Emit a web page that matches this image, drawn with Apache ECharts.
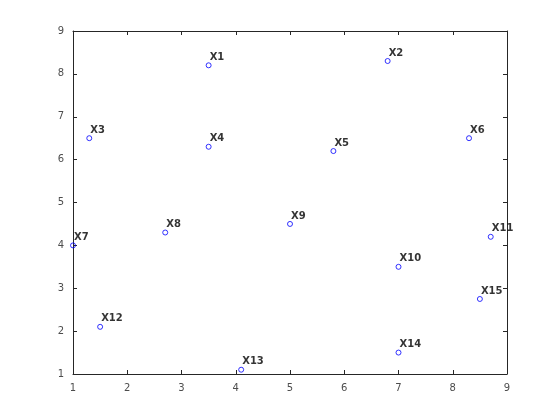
<!DOCTYPE html>
<html><head><meta charset="utf-8">
<script src="https://cdn.jsdelivr.net/npm/echarts@6/dist/echarts.min.js"></script>
<style>html,body{margin:0;padding:0;background:#fff}#c{width:560px;height:420px}</style>
</head><body><div id="c"></div>
<script>
const names = ['X1','X2','X3','X4','X5','X6','X7','X8','X9','X10','X11','X12','X13','X14','X15'];
const xs = [3.5,6.8,1.3,3.5,5.8,8.3,1.0,2.7,5.0,7.0,8.7,1.5,4.1,7.0,8.5];
const ys = [8.2,8.3,6.5,6.3,6.2,6.5,4.0,4.3,4.5,3.5,4.2,2.1,1.1,1.5,2.75];
const xTicks = [1,2,3,4,5,6,7,8,9];
const yTicks = [1,2,3,4,5,6,7,8,9];

const data = names.map((n,i)=>({name:n, value:[xs[i], ys[i]]}));
const axisLine = {show:true, onZero:false, lineStyle:{color:'#262626', width:1}};
const tickStyle = {show:true, inside:true, length:4, lineStyle:{color:'#262626'}};
const lbl = {color:'#4d4d4d', fontFamily:'DejaVu Sans', fontSize:10};
function xa(pos, show){
  return {type:'value', position:pos, min:xTicks[0], max:xTicks[xTicks.length-1], interval:1,
    axisLine, axisTick:tickStyle, splitLine:{show:false},
    axisLabel: show ? Object.assign({margin:9}, lbl) : {show:false}};
}
function ya(pos, show){
  return {type:'value', position:pos, min:yTicks[0], max:yTicks[yTicks.length-1], interval:1,
    axisLine, axisTick:tickStyle, splitLine:{show:false},
    axisLabel: show ? Object.assign({margin:9}, lbl) : {show:false}};
}
const chart = echarts.init(document.getElementById('c'));
chart.setOption({
  animation:false,
  backgroundColor:'#fff',
  grid:{left:73, right:53, top:31, bottom:46, containLabel:false},
  xAxis:[xa('bottom', true), xa('top', false)],
  yAxis:[ya('left', true), ya('right', false)],
  series:[{
    type:'scatter', xAxisIndex:0, yAxisIndex:0,
    data,
    symbol:'circle', symbolSize:5,
    itemStyle:{color:'rgba(0,0,0,0)', borderColor:'#0000ff', borderWidth:1},
    label:{show:true, position:'right', distance:0, offset:[-2,-8],
      formatter:p=>p.name, color:'#000', fontFamily:'DejaVu Sans', fontWeight:'bold', fontSize:10},
    clip:false
  }]
});
</script></body></html>
